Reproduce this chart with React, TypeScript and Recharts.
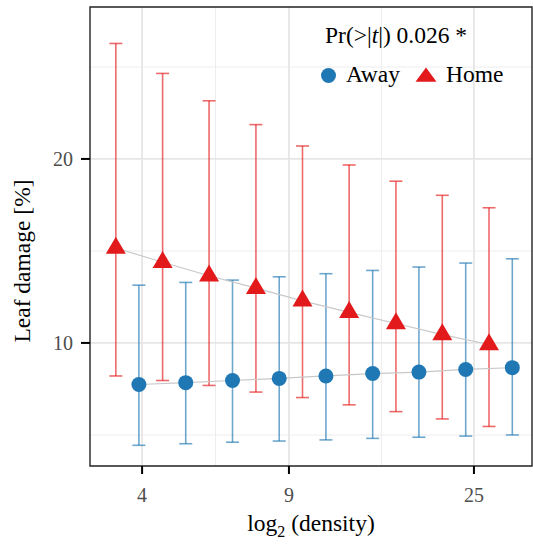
import {
  ScatterChart,
  Scatter,
  XAxis,
  YAxis,
  CartesianGrid,
  ErrorBar,
  ReferenceArea,
  Customized,
} from 'recharts';

const SERIF = "'Liberation Serif', 'Times New Roman', Times, serif";
const BLUE = '#1f78b4';
const RED = '#e31a1c';

// values (density on a log2 axis, damage on a log axis)
const homeDensity = [3.46, 4.48, 5.79, 7.5, 9.7, 12.55, 16.25, 20.99, 27.17];
const homeDamage = [14.3, 13.55, 12.88, 12.29, 11.72, 11.22, 10.76, 10.32, 9.94];
const homeLower = [8.83, 8.68, 8.52, 8.31, 8.14, 7.92, 7.72, 7.51, 7.3];
const homeUpper = [30.9, 27.6, 24.9, 22.76, 21.0, 19.55, 18.39, 17.44, 16.64];

const awayDensity = [3.93, 5.09, 6.59, 8.53, 11.04, 14.29, 18.45, 23.89, 30.9];
const awayDamage = [8.55, 8.61, 8.68, 8.75, 8.83, 8.91, 8.96, 9.05, 9.11];
const awayLower = [6.8, 6.84, 6.88, 6.91, 6.94, 6.98, 7.01, 7.04, 7.07];
const awayUpper = [12.43, 12.56, 12.67, 12.83, 12.98, 13.14, 13.31, 13.51, 13.73];

const X_TICKS = [4, 9, 25];
const X_MINOR = [6, 15];
const Y_TICKS = [10, 20];
const Y_MINOR = [7.07, 14.14, 28.28];
const X_DOMAIN: [number, number] = [3.0, 34.45];
const Y_DOMAIN: [number, number] = [6.29, 35.45];

function buildRows(dens: number[], dmg: number[], lo: number[], hi: number[]) {
  return dens.map((x, i) => ({
    x,
    y: dmg[i],
    err: [dmg[i] - lo[i], hi[i] - dmg[i]],
  }));
}

const homeData = buildRows(homeDensity, homeDamage, homeLower, homeUpper);
const awayData = buildRows(awayDensity, awayDamage, awayLower, awayUpper);

function DotShape(props: any) {
  return <circle cx={props.cx} cy={props.cy} r={7.5} fill={BLUE} />;
}

function TriShape(props: any) {
  const { cx, cy } = props;
  return (
    <polygon
      points={`${cx},${cy - 11.3} ${cx + 10},${cy + 5.7} ${cx - 10},${cy + 5.7}`}
      fill={RED}
    />
  );
}

function Annotations() {
  return (
    <g fontFamily={SERIF}>
      <text x={325} y={43} fontSize={23.5} fill="#000">
        Pr(&gt;|<tspan fontStyle="italic">t</tspan>|) 0.026 *
      </text>
      <circle cx={328.5} cy={75.5} r={7.5} fill={BLUE} />
      <text x={346} y={82} fontSize={23.5} fill="#000">
        Away
      </text>
      <polygon points="426,67.5 436.5,81.7 415.5,81.7" fill={RED} />
      <text x={446} y={82} fontSize={23.5} fill="#000">
        Home
      </text>
      {/* axis titles */}
      <text x={311} y={531} fontSize={23.5} fill="#000" textAnchor="middle">
        log
        <tspan fontSize={16} dy={6}>
          2
        </tspan>
        <tspan dy={-6}> (density)</tspan>
      </text>
      <text
        x={30}
        y={261}
        fontSize={23.5}
        fill="#000"
        textAnchor="middle"
        transform="rotate(-90 30 261)"
      >
        Leaf damage [%]
      </text>
    </g>
  );
}

export default function App() {
  return (
    <div style={{ position: 'absolute', left: 0, top: 0, background: '#fff' }}>
      <ScatterChart
        width={533}
        height={545}
        margin={{ top: 7, right: 1, bottom: 0, left: 0 }}
      >
        <CartesianGrid
          horizontalValues={Y_MINOR}
          verticalValues={X_MINOR}
          stroke="#ebebeb"
          strokeWidth={0.9}
        />
        <CartesianGrid
          horizontalValues={Y_TICKS}
          verticalValues={X_TICKS}
          stroke="#e6e6e6"
          strokeWidth={1.8}
        />
        <XAxis
          type="number"
          dataKey="x"
          scale="log"
          domain={X_DOMAIN}
          allowDataOverflow
          ticks={X_TICKS}
          interval={0}
          height={79}
          tickSize={8}
          tickMargin={14}
          axisLine={false}
          tickLine={{ stroke: '#000', strokeWidth: 2 }}
          tick={{ fill: '#4d4d4d', fontSize: 20, fontFamily: SERIF }}
        />
        <YAxis
          type="number"
          dataKey="y"
          scale="log"
          domain={Y_DOMAIN}
          allowDataOverflow
          ticks={Y_TICKS}
          interval={0}
          width={90}
          tickSize={9}
          tickMargin={8}
          axisLine={false}
          tickLine={{ stroke: '#000', strokeWidth: 2 }}
          tick={{ fill: '#4d4d4d', fontSize: 20, fontFamily: SERIF }}
        />
        <Scatter
          name="Away"
          data={awayData}
          shape={DotShape}
          line={{ stroke: '#c8c8c8', strokeWidth: 1.2 }}
          lineType="joint"
          isAnimationActive={false}
        >
          <ErrorBar
            dataKey="err"
            direction="y"
            width={6.5}
            stroke={BLUE}
            strokeOpacity={0.65}
            strokeWidth={1.6}
            isAnimationActive={false}
          />
        </Scatter>
        <Scatter
          name="Home"
          data={homeData}
          shape={TriShape}
          line={{ stroke: '#c8c8c8', strokeWidth: 1.2 }}
          lineType="joint"
          isAnimationActive={false}
        >
          <ErrorBar
            dataKey="err"
            direction="y"
            width={6.5}
            stroke={RED}
            strokeOpacity={0.65}
            strokeWidth={1.6}
            isAnimationActive={false}
          />
        </Scatter>
        <ReferenceArea
          x1={X_DOMAIN[0]}
          x2={X_DOMAIN[1]}
          y1={Y_DOMAIN[0]}
          y2={Y_DOMAIN[1]}
          fill="none"
          stroke="#222"
          strokeWidth={1.4}
          ifOverflow="visible"
        />
        <Customized component={Annotations} />
      </ScatterChart>
    </div>
  );
}
